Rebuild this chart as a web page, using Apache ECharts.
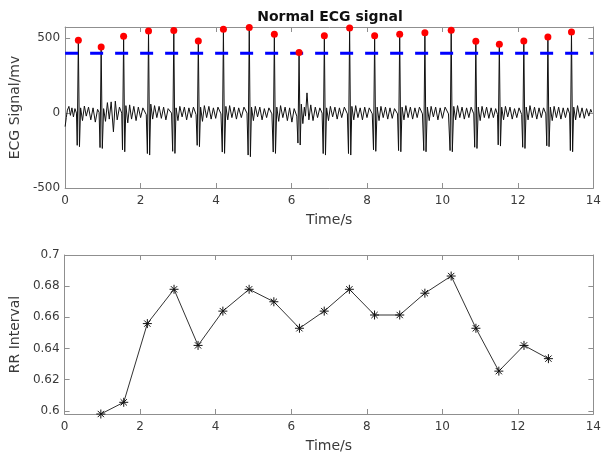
<!DOCTYPE html>
<html>
<head>
<meta charset="utf-8">
<script src="https://cdn.jsdelivr.net/npm/echarts@6/dist/echarts.min.js"></script>
<style>
html,body{margin:0;padding:0;background:#fff;}
#c{width:604px;height:454px;}
</style>
</head>
<body>
<div id="c"></div>
<script>
// ---------- data ----------
const titleText = 'Normal ECG signal';
const xTicks = [0, 2, 4, 6, 8, 10, 12, 14];
const ecgYTicks = [-500, 0, 500];
const rrYTicks = [0.6, 0.62, 0.64, 0.66, 0.68, 0.7];

// R-peak detections (time s, amplitude mv)
const peakTimes  = [0.35, 0.955, 1.55, 2.21, 2.88, 3.53, 4.195, 4.88, 5.545, 6.20, 6.87, 7.54, 8.203, 8.867, 9.535, 10.232, 10.885, 11.508, 12.157, 12.795, 13.42];
const peakValues = [487, 442, 513, 549, 551, 482, 560, 571, 527, 404, 516, 569, 516, 527, 537, 553, 480, 460, 482, 509, 542];

// detection threshold
const thresholdValue = 400;
const thresholdSpan = [0, 14];

// RR intervals
const rrTimes  = [0.959, 1.565, 2.19, 2.897, 3.533, 4.19, 4.885, 5.54, 6.218, 6.874, 7.54, 8.206, 8.873, 9.539, 10.235, 10.89, 11.497, 12.163, 12.81];
const rrValues = [0.598, 0.6055, 0.656, 0.678, 0.642, 0.664, 0.678, 0.670, 0.653, 0.664, 0.678, 0.6615, 0.6615, 0.6755, 0.6865, 0.653, 0.6255, 0.642, 0.6335];

// ECG trace (time s, value mv), traced by eye
const ecgPoints = [
[0,-90],[0.03,-30],[0.06,20],[0.10,45],[0.14,-15],[0.18,35],[0.22,-25],[0.26,30],[0.30,0],
[0.32,-215],[0.35,487],[0.38,-224],[0.41,35],[0.46,-50],[0.51,47],[0.56,-20],[0.62,40],[0.68,-45],[0.74,35],[0.80,-60],[0.86,25],[0.90,5],
[0.925,-230],[0.955,442],[0.985,-236],[1.02,30],[1.07,-55],[1.12,70],[1.17,-40],[1.22,75],[1.28,-125],[1.33,80],[1.38,-45],[1.44,40],[1.50,0],
[1.52,-245],[1.55,513],[1.58,-258],[1.61,50],[1.66,-65],[1.71,55],[1.76,-40],[1.82,45],[1.88,-50],[1.94,40],[2.00,-30],[2.06,35],[2.15,-10],
[2.18,-270],[2.21,549],[2.24,-280],[2.27,60],[2.32,-40],[2.37,50],[2.43,-30],[2.49,45],[2.55,-35],[2.61,40],[2.67,-45],[2.73,30],[2.82,0],
[2.85,-255],[2.88,551],[2.91,-269],[2.94,35],[2.99,-50],[3.04,45],[3.10,-25],[3.16,40],[3.22,-45],[3.28,35],[3.34,-30],[3.40,40],[3.47,-10],
[3.50,-215],[3.53,482],[3.56,-224],[3.59,40],[3.64,-55],[3.69,50],[3.75,-30],[3.81,45],[3.87,-40],[3.93,35],[3.99,-35],[4.05,40],[4.13,-5],
[4.165,-260],[4.195,560],[4.225,-269],[4.26,45],[4.31,-45],[4.36,50],[4.42,-30],[4.48,40],[4.54,-40],[4.60,35],[4.67,-30],[4.74,40],[4.82,0],
[4.85,-280],[4.88,571],[4.91,-291],[4.94,40],[4.99,-50],[5.04,45],[5.10,-25],[5.16,40],[5.22,-45],[5.28,30],[5.34,-30],[5.40,35],[5.48,-5],
[5.515,-260],[5.545,527],[5.575,-269],[5.61,40],[5.66,-55],[5.71,50],[5.77,-30],[5.83,40],[5.89,-50],[5.95,35],[6.01,-60],[6.07,30],[6.14,-20],
[6.17,-200],[6.20,404],[6.23,-213],[6.26,60],[6.30,-70],[6.34,40],[6.37,-20],[6.41,135],[6.46,-45],[6.51,55],[6.57,-50],[6.63,40],[6.69,-30],[6.75,35],[6.81,0],
[6.84,-270],[6.87,516],[6.90,-280],[6.93,35],[6.98,-50],[7.03,45],[7.09,-25],[7.15,40],[7.21,-40],[7.27,35],[7.33,-30],[7.40,40],[7.48,-5],
[7.51,-270],[7.54,569],[7.57,-280],[7.60,45],[7.65,-45],[7.70,50],[7.76,-30],[7.82,35],[7.88,-45],[7.94,40],[8.00,-30],[8.06,35],[8.14,-5],
[8.173,-245],[8.203,516],[8.233,-255],[8.27,40],[8.32,-50],[8.37,45],[8.43,-30],[8.49,40],[8.55,-40],[8.61,35],[8.67,-35],[8.73,30],[8.81,-5],
[8.837,-250],[8.867,527],[8.897,-258],[8.93,40],[8.98,-45],[9.03,50],[9.09,-30],[9.15,40],[9.21,-40],[9.27,35],[9.33,-30],[9.39,40],[9.47,-5],
[9.505,-250],[9.535,537],[9.565,-258],[9.60,40],[9.65,-50],[9.70,45],[9.76,-25],[9.82,40],[9.88,-45],[9.94,35],[10.00,-35],[10.07,40],[10.16,-5],
[10.202,-250],[10.232,553],[10.262,-258],[10.30,45],[10.35,-45],[10.40,50],[10.46,-30],[10.52,40],[10.58,-40],[10.64,35],[10.70,-30],[10.76,40],[10.83,-5],
[10.855,-228],[10.885,480],[10.915,-236],[10.95,40],[11.00,-50],[11.05,45],[11.11,-30],[11.17,40],[11.23,-35],[11.29,35],[11.35,-30],[11.41,30],[11.46,-10],
[11.478,-212],[11.508,460],[11.538,-220],[11.57,40],[11.62,-45],[11.67,45],[11.73,-25],[11.79,40],[11.85,-40],[11.91,30],[11.97,-30],[12.03,35],[12.10,-10],
[12.127,-228],[12.157,482],[12.187,-236],[12.22,40],[12.27,-45],[12.32,50],[12.38,-30],[12.44,40],[12.50,-40],[12.56,35],[12.62,-30],[12.68,35],[12.74,-5],
[12.765,-218],[12.795,509],[12.825,-224],[12.86,40],[12.91,-50],[12.96,45],[13.02,-30],[13.08,40],[13.14,-40],[13.20,35],[13.26,-30],[13.32,35],[13.37,-5],
[13.39,-250],[13.42,542],[13.45,-258],[13.48,40],[13.53,-45],[13.58,50],[13.64,-30],[13.70,35],[13.76,-35],[13.82,30],[13.88,-20],[13.93,25],[13.96,5]
];

// ---------- chart ----------
const FONT = 'DejaVu Sans';
const AXIS_COLOR = '#8f8f8f';
const TEXT_COLOR = '#3a3a3a';

function xAxisDef(grid, main) {
  return {
    type: 'value', gridIndex: grid, min: xTicks[0], max: xTicks[xTicks.length - 1], interval: 2,
    position: main ? 'bottom' : 'top',
    axisLine: { show: true, onZero: false, lineStyle: { color: AXIS_COLOR, width: 1 } },
    axisTick: { show: true, inside: true, length: 5, lineStyle: { color: AXIS_COLOR } },
    axisLabel: { show: main, fontFamily: FONT, fontSize: 12, color: TEXT_COLOR, margin: 7 },
    splitLine: { show: false },
    name: main ? 'Time/s' : '', nameLocation: 'middle', nameGap: 25,
    nameTextStyle: { fontFamily: FONT, fontSize: 14, color: TEXT_COLOR }
  };
}
function yAxisDef(grid, main, min, max, ticks, name, fmt) {
  return {
    type: 'value', gridIndex: grid, min: min, max: max,
    position: main ? 'left' : 'right',
    axisLine: { show: true, onZero: false, lineStyle: { color: AXIS_COLOR, width: 1 } },
    axisTick: { show: true, inside: true, length: 5, customValues: ticks, lineStyle: { color: AXIS_COLOR } },
    axisLabel: { show: main, customValues: ticks, fontFamily: FONT, fontSize: 12, color: TEXT_COLOR, margin: 5, formatter: fmt },
    splitLine: { show: false },
    name: main ? name : '', nameLocation: 'middle', nameGap: 38,
    nameTextStyle: { fontFamily: FONT, fontSize: 14, color: TEXT_COLOR }
  };
}

const chart = echarts.init(document.getElementById('c'), null, { renderer: 'canvas' });
chart.setOption({
  animation: false,
  backgroundColor: '#ffffff',
  graphic: [{
    type: 'text', x: 330, y: 17,
    style: { text: titleText, align: 'center', verticalAlign: 'middle',
             font: 'bold 14px "DejaVu Sans"', fill: '#111' }
  }],
  grid: [
    { left: 62, top: 27, width: 535, height: 161 },
    { left: 62, top: 255, width: 535, height: 159 }
  ],
  xAxis: [xAxisDef(0, true), xAxisDef(0, false), xAxisDef(1, true), xAxisDef(1, false)],
  yAxis: [
    yAxisDef(0, true, -500, 575, ecgYTicks, 'ECG Signal/mv', v => String(v)),
    yAxisDef(0, false, -500, 575, ecgYTicks, '', v => String(v)),
    yAxisDef(1, true, 0.598, 0.7, rrYTicks, 'RR Interval', v => String(+v.toFixed(2))),
    yAxisDef(1, false, 0.598, 0.7, rrYTicks, '', v => String(+v.toFixed(2)))
  ],
  series: [
    {
      type: 'line', xAxisIndex: 0, yAxisIndex: 0, data: ecgPoints,
      showSymbol: false, symbol: 'none', z: 2,
      lineStyle: { color: '#111111', width: 1 }
    },
    {
      type: 'line', xAxisIndex: 0, yAxisIndex: 0, z: 3,
      data: thresholdSpan.map(t => [t, thresholdValue]),
      symbol: 'none',
      lineStyle: { color: '#0000ff', width: 3, type: [13, 12] }
    },
    {
      type: 'scatter', xAxisIndex: 0, yAxisIndex: 0, z: 4, clip: false,
      data: peakTimes.map((t, i) => [t, peakValues[i]]),
      symbol: 'circle', symbolSize: 7,
      itemStyle: { color: '#ff0000', opacity: 1 }
    },
    {
      type: 'line', xAxisIndex: 2, yAxisIndex: 2, z: 3, clip: false,
      data: rrTimes.map((t, i) => [t, rrValues[i]]),
      symbol: 'path://M5,0L5,10M0,5L10,5M1.5,1.5L8.5,8.5M1.5,8.5L8.5,1.5',
      symbolSize: 9, showSymbol: true,
      lineStyle: { color: '#333333', width: 1 },
      itemStyle: { color: 'none', borderColor: '#111111', borderWidth: 1 }
    }
  ]
});
</script>
</body>
</html>
